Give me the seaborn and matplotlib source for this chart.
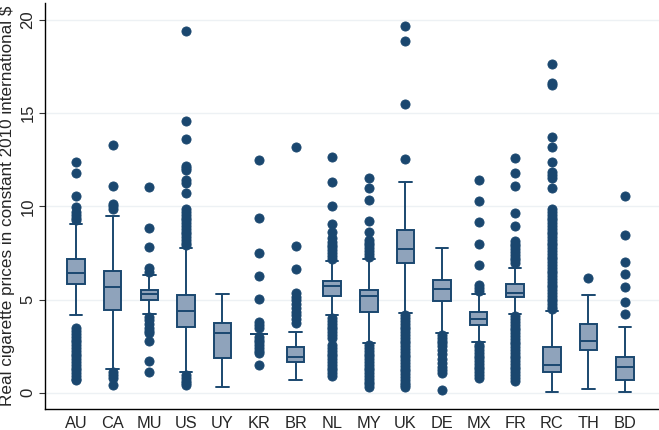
import pandas as pd
import matplotlib.pyplot as plt
import seaborn as sns

# box statistics (real prices, constant 2010 intl $)
countries = ["AU", "CA", "MU", "US", "UY", "KR", "BR", "NL",
             "MY", "UK", "DE", "MX", "FR", "RC", "TH", "BD"]
q1 = [5.83, 4.44, 4.97, 3.55, 1.85, 3.13, 1.65, 5.21,
      4.35, 6.94, 4.90, 3.64, 5.15, 1.13, 2.29, 0.69]
median = [6.44, 5.69, 5.30, 4.39, 3.22, 3.13, 1.94, 5.74,
          5.21, 7.73, 5.55, 3.97, 5.37, 1.49, 2.79, 1.40]
q3 = [7.17, 6.55, 5.53, 5.24, 3.72, 3.13, 2.44, 5.99,
      5.51, 8.73, 6.07, 4.33, 5.82, 2.44, 3.69, 1.94]
whisker_lo = [4.19, 1.30, 4.20, 1.13, 0.33, 3.13, 0.69, 4.17,
              2.65, 4.26, 3.19, 2.74, 4.21, 0.06, 0.22, 0.03]
whisker_hi = [9.05, 9.48, 6.30, 7.75, 5.30, 3.13, 3.28, 7.08,
              7.20, 11.30, 7.75, 5.32, 6.71, 4.38, 5.24, 3.51]

outliers = {
    "AU": [12.36, 11.80, 10.57, 9.95, 9.71, 9.55, 9.40, 9.25,
           3.46, 3.30, 3.15, 3.00, 2.85, 2.70, 2.55, 2.40, 2.25, 2.10, 1.95,
           1.80, 1.65, 1.50, 1.35, 1.20, 1.05, 0.90, 0.75, 0.69],
    "CA": [13.27, 11.09, 10.15, 10.00, 9.85, 1.10, 0.95, 0.80, 0.42],
    "MU": [11.05, 8.85, 7.80, 6.67, 6.50,
           4.08, 3.90, 3.70, 3.50, 3.30, 3.20, 2.78, 1.72, 1.13],
    "US": [19.40, 14.57, 13.59, 12.18, 12.05, 11.95, 11.41, 11.27, 10.70,
           9.84, 9.70, 9.55, 9.40, 9.25, 9.10, 8.95, 8.80, 8.65, 8.50, 8.35,
           8.20, 8.05, 7.90, 0.95, 0.80, 0.65, 0.50, 0.42],
    "UY": [],
    "KR": [12.48, 9.37, 7.48, 6.26, 5.01, 3.81, 3.65, 3.46,
           3.00, 2.85, 2.70, 2.55, 2.40, 2.25, 2.12, 1.49],
    "BR": [13.20, 7.89, 6.64, 5.34, 5.15, 4.95, 4.75, 4.55, 4.35, 4.15,
           3.95, 3.75],
    "NL": [12.63, 11.32, 10.02, 9.05, 8.64, 8.28, 8.10, 7.95, 7.80, 7.65,
           7.50, 7.35, 7.20,
           4.00, 3.85, 3.70, 3.55, 3.40, 3.25, 3.10, 2.95, 2.56, 2.40, 2.25,
           2.10, 1.95, 1.80, 1.65, 1.50, 1.35, 1.20, 1.05, 0.90],
    "MY": [11.50, 11.00, 10.34, 9.21, 8.64, 8.19, 8.05, 7.90, 7.75, 7.60,
           7.45, 7.30,
           2.55, 2.40, 2.25, 2.10, 1.95, 1.80, 1.65, 1.50, 1.35, 1.20, 1.05,
           0.90, 0.75, 0.60, 0.45, 0.33],
    "UK": [19.67, 18.88, 15.47, 12.52,
           4.17, 4.00, 3.85, 3.70, 3.55, 3.40, 3.25, 3.10, 2.95, 2.80, 2.65,
           2.50, 2.35, 2.20, 2.05, 1.90, 1.75, 1.60, 1.45, 1.30, 1.15, 1.00,
           0.85, 0.70, 0.55, 0.40, 0.33],
    "DE": [3.10, 2.95, 2.80, 2.65, 2.50, 2.30, 2.10, 1.80, 1.60, 1.40,
           1.20, 1.05, 0.15],
    "MX": [11.41, 10.27, 9.16, 7.96, 6.85, 5.78, 5.60, 5.45,
           2.58, 2.45, 2.30, 2.15, 2.00, 1.85, 1.70, 1.55, 1.40, 1.25, 1.10,
           0.95, 0.80],
    "FR": [12.61, 11.77, 11.11, 9.66, 8.94, 8.16, 8.00, 7.85, 7.70, 7.55,
           7.40, 7.25, 7.10, 6.94,
           4.10, 3.95, 3.80, 3.65, 3.50, 3.35, 3.20, 3.05, 2.90, 2.75, 2.60,
           2.45, 2.30, 2.15, 2.00, 1.85, 1.70, 1.55, 1.40, 1.25, 1.10, 0.95,
           0.80, 0.65],
    "RC": [17.61, 16.60, 16.50, 13.73, 13.20, 12.36, 11.86, 11.70, 11.50,
           11.00, 9.84, 9.70, 9.55, 9.40, 9.25, 9.10, 8.95, 8.80, 8.65, 8.50,
           8.35, 8.20, 8.05, 7.90, 7.75, 7.60, 7.45, 7.30, 7.15, 7.00, 6.85,
           6.70, 6.55, 6.40, 6.25, 6.10, 5.95, 5.80, 5.65, 5.50, 5.35, 5.20,
           5.05, 4.90, 4.75, 4.60, 4.48],
    "TH": [6.17],
    "BD": [10.57, 8.44, 7.03, 6.35, 5.66, 4.89, 4.22],
}

NAVY = "#1a476f"
BOX_FILL = "#8fa3bb"


def rebuild_sample(i, c):
    # seaborn needs raw values: build a sample whose quartiles, whisker ends
    # and outliers are exactly the ones
    low = [v for v in outliers[c] if v < median[i]]
    high = [v for v in outliers[c] if v >= median[i]]
    k = 2 * max(len(low), len(high)) + 10
    return (low + [whisker_lo[i]] + [q1[i]] * (k - len(low) - 1) + [median[i]]
            + [q3[i]] * (k - len(high) - 1) + [whisker_hi[i]] + high)


rows = []
for i, c in enumerate(countries):
    for v in rebuild_sample(i, c):
        rows.append((c, v))
df = pd.DataFrame(rows, columns=["country", "price"])

sns.set_theme(style="white")
plt.rcParams["font.family"] = ["Liberation Sans", "DejaVu Sans"]

fig = plt.figure(figsize=(6.59, 4.30), dpi=100)
ax = fig.add_axes([0.0683, 0.0488, 0.9317, 0.944])

ax.yaxis.grid(True, color="#edf1f4", linewidth=1.0)
ax.set_axisbelow(True)

sns.boxplot(data=df, x="country", y="price", order=countries, ax=ax,
            color=BOX_FILL, saturation=1, linecolor=NAVY, linewidth=1.4,
            width=0.48, whis=1.5, capwidths=0.34,
            flierprops=dict(marker="o", markerfacecolor=NAVY,
                            markeredgecolor=NAVY, markersize=6.6,
                            markeredgewidth=0.6))

ax.set_xlim(-0.85, 15.93)
ax.set_ylim(-0.87, 20.9)
ax.set_yticks([0, 5, 10, 15, 20])
ax.set_xlabel("")
ax.set_ylabel("Real cigarette prices in constant 2010 international $",
              fontsize=12.3, labelpad=4)

ax.tick_params(axis="y", labelsize=12, labelrotation=90, length=4,
               width=0.8, color="#333333", pad=3, left=True)
ax.tick_params(axis="x", labelsize=11.8, length=0, pad=5)
for lbl in ax.get_yticklabels():
    lbl.set_va("center")

for side in ["top", "right"]:
    ax.spines[side].set_visible(False)
for side in ["left", "bottom"]:
    ax.spines[side].set_color("black")
    ax.spines[side].set_linewidth(1.0)

fig.savefig("out.png", dpi=100)
plt.close(fig)
